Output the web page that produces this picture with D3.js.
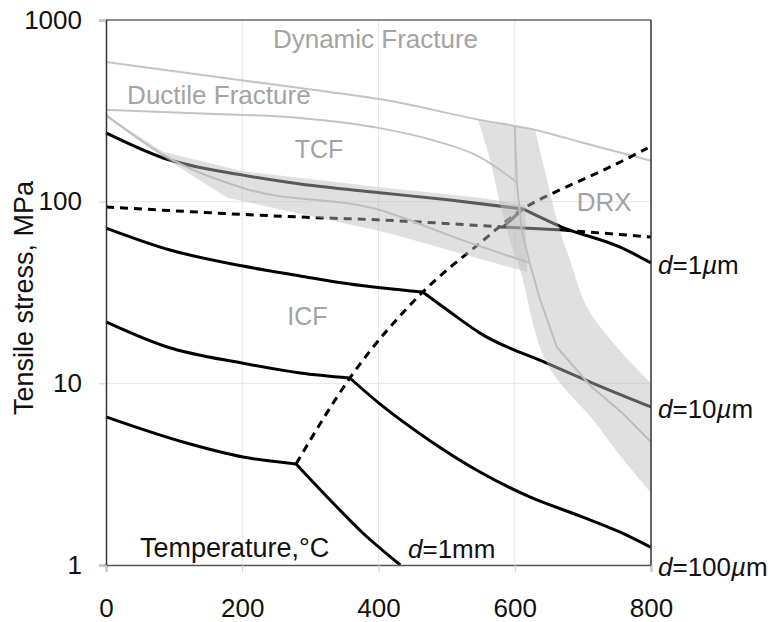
<!DOCTYPE html>
<html>
<head>
<meta charset="utf-8">
<script src="https://cdn.jsdelivr.net/npm/d3@7"></script>
<style>
  body { margin: 0; background: #fff; }
  svg { display: block; }
  text { font-family: "Liberation Sans", Arial, Helvetica, sans-serif; }
</style>
</head>
<body>
<svg id="chart" width="771" height="622"></svg>
<script>
// Axis ticks: temperature (°C) and tensile stress (MPa, log scale)
const tempTicks = [0, 200, 400, 600, 800];
const stressTicks = [1, 10, 100, 1000];

// Fracture boundaries [T, stress]
const dynamicFracture = [[0, 587], [285, 422], [402, 367], [549, 282], [637, 245], [696, 213], [800, 168]];
const ductileFracture = [[0, 320], [140, 306], [285, 289], [402, 254], [480, 218], [549, 176], [603, 128]];

// Iso-strain-rate curves for each grain size: low-T branch and high-T branch meet at the kink
const d1umLow   = [[0, 239], [84, 174], [201, 140], [285, 125], [402, 112], [505, 102], [612, 91.2]];
const d1umHigh  = [[612, 91.2], [669, 72.5], [754, 56.3], [800, 46]];
const d10umLow  = [[0, 71.6], [94, 54.2], [201, 44.2], [285, 39], [358, 35.2], [465, 31.8]];
const d10umHigh = [[465, 31.8], [505, 24.7], [549, 18.9], [647, 12.9], [715, 10.0], [800, 7.41]];
const d100umLow  = [[0, 21.8], [90, 15.85], [201, 12.9], [285, 11.4], [358, 10.7]];
const d100umHigh = [[358, 10.7], [402, 7.7], [476, 4.82], [549, 3.25], [622, 2.37], [696, 1.86], [754, 1.52], [800, 1.25]];
const d1mmLow  = [[0, 6.53], [113, 4.75], [201, 3.93], [279, 3.6]];
const d1mmHigh = [[279, 3.6], [329, 2.28], [377, 1.5], [432, 1.0]];

// Mechanism boundaries (dashed)
const kinkBoundary = [[279, 3.6], [358, 10.7], [465, 31.8], [549, 59.2], [612, 91.2], [666, 116], [725, 146], [795, 197]];
const flatBoundaryLeft  = [[0, 93.5], [285, 82.3], [402, 79.3], [583, 72.5]];
const flatBoundaryMid   = [[612, 91.2], [583, 72.5], [671, 69.8]];
const flatBoundaryRight = [[671, 69.8], [800, 63.9]];

// Shaded regions: TCF band and DRX band (outline edges)
const tcfBandUpper = [[0, 300], [84, 188], [201, 147], [402, 120], [549, 105], [615, 96]];
const tcfBandLower = [[618, 41], [451, 61.5], [402, 68.9], [178, 105], [84, 176], [0, 292]];
const tcfCenter = [[0, 300], [84, 181], [201, 119], [402, 90], [520, 62], [622, 46]];
const drxBandLeft  = [[546, 283], [564, 169], [578, 98], [593, 61.5], [608, 42], [647, 12.9], [715, 6.28], [754, 4.03], [800, 2.49]];
const drxBandRight = [[800, 10.0], [747, 16.3], [706, 26.3], [681, 47.7], [666, 69.8], [644, 149], [630, 249]];
const drxCenter = [[600, 260], [603, 128], [610, 70], [622, 46], [637, 29], [662, 15.8], [710, 9.8], [759, 6.8], [800, 4.75]];

const svg = d3.select("#chart");
const x = d3.scaleLinear().domain([0, 800]).range([106, 651]);
const y = d3.scaleLog().domain([1, 1000]).range([565, 20]);

const smooth = d3.line().x(d => x(d[0])).y(d => y(d[1])).curve(d3.curveMonotoneX);
const straight = d3.line().x(d => x(d[0])).y(d => y(d[1]));
const rounded = d3.line().x(d => x(d[0])).y(d => y(d[1])).curve(d3.curveCatmullRom.alpha(0.5));

// Closed outline from two edges, each drawn with its own interpolation
function bandPath(edgeA, edgeB, gen) {
  return gen(edgeA) + gen(edgeB).replace(/^M/, "L") + "Z";
}

// Grid
const grid = svg.append("g");
grid.selectAll("line.v").data([200, 400, 600]).join("line")
  .attr("x1", d => x(d)).attr("x2", d => x(d)).attr("y1", y(1000)).attr("y2", y(1))
  .attr("stroke", "#e6e6e6").attr("stroke-width", 1);
grid.selectAll("line.h").data([10, 100]).join("line")
  .attr("x1", x(0)).attr("x2", x(800)).attr("y1", d => y(d)).attr("y2", d => y(d))
  .attr("stroke", "#e6e6e6").attr("stroke-width", 1);

// Fracture boundaries
[dynamicFracture, ductileFracture].forEach(s => {
  svg.append("path").attr("d", smooth(s)).attr("fill", "none")
    .attr("stroke", "#c4c4c4").attr("stroke-width", 2);
});

// Grain-size curves
[[d1umLow, d1umHigh], [d10umLow, d10umHigh], [d100umLow, d100umHigh], [d1mmLow, d1mmHigh]].forEach(pair => {
  pair.forEach(s => {
    svg.append("path").attr("d", smooth(s)).attr("fill", "none")
      .attr("stroke", "#000").attr("stroke-width", 3).attr("stroke-linejoin", "round");
  });
});

// Dashed mechanism boundaries
[kinkBoundary, flatBoundaryLeft, flatBoundaryRight].forEach(s => {
  svg.append("path").attr("d", smooth(s)).attr("fill", "none")
    .attr("stroke", "#000").attr("stroke-width", 3).attr("stroke-dasharray", "8,6");
});
svg.append("path").attr("d", straight(flatBoundaryMid)).attr("fill", "none")
  .attr("stroke", "#000").attr("stroke-width", 3).attr("stroke-linejoin", "miter");

// Translucent bands over the curves
const bandFill = "rgb(190,190,190)";
svg.append("path")
  .attr("d", bandPath(tcfBandUpper, tcfBandLower, straight))
  .attr("fill", bandFill).attr("fill-opacity", 0.47);
svg.append("path")
  .attr("d", bandPath(drxBandLeft, drxBandRight, rounded))
  .attr("fill", bandFill).attr("fill-opacity", 0.47);

// Centre lines of the bands
svg.append("path").attr("d", smooth(tcfCenter)).attr("fill", "none")
  .attr("stroke", "#bdbdbd").attr("stroke-width", 2);
svg.append("path").attr("d", straight(drxCenter)).attr("fill", "none")
  .attr("stroke", "#bdbdbd").attr("stroke-width", 2);

// Frame
svg.append("line").attr("x1", x(0)).attr("x2", x(800)).attr("y1", y(1000)).attr("y2", y(1000))
  .attr("stroke", "#666").attr("stroke-width", 1.5);
svg.append("line").attr("x1", x(800)).attr("x2", x(800)).attr("y1", y(1000)).attr("y2", y(1))
  .attr("stroke", "#333").attr("stroke-width", 1.5);

// Axes
const fontSize = 26;
const yAxis = svg.append("g").attr("transform", `translate(${x(0)},0)`)
  .call(d3.axisLeft(y).tickValues(stressTicks).tickFormat(d3.format("d")).tickSize(7).tickPadding(17));
const xAxis = svg.append("g").attr("transform", `translate(0,${y(1)})`)
  .call(d3.axisBottom(x).tickValues(tempTicks).tickFormat(d3.format("d")).tickSize(7).tickPadding(27));
[yAxis, xAxis].forEach(g => {
  g.selectAll("text").attr("font-size", fontSize).attr("fill", "#111")
    .style("font-family", '"Liberation Sans", Arial, sans-serif');
  g.selectAll(".tick line").attr("stroke", "#c8c8c8");
});
yAxis.select(".domain").attr("stroke", "#333").attr("stroke-width", 1.5);
xAxis.select(".domain").attr("stroke", "#555").attr("stroke-width", 1.5);

// Axis titles
svg.append("text")
  .attr("transform", "translate(33,298) rotate(-90)")
  .attr("text-anchor", "middle").attr("font-size", 27).attr("fill", "#111")
  .text("Tensile stress, MPa");
svg.append("text").attr("x", 140).attr("y", 557)
  .attr("font-size", 27).attr("fill", "#111").text("Temperature,°C");

// Region labels
const regionLabels = [
  { text: "Dynamic Fracture", T: 245, s: 700, size: 26 },
  { text: "Ductile Fracture", T: 31, s: 345, size: 26 },
  { text: "TCF", T: 277, s: 173, size: 25 },
  { text: "DRX", T: 691, s: 89, size: 26 },
  { text: "ICF", T: 266, s: 21, size: 25 }
];
svg.selectAll("text.region").data(regionLabels).join("text")
  .attr("class", "region")
  .attr("x", d => x(d.T)).attr("y", d => y(d.s))
  .attr("font-size", d => d.size).attr("fill", "#a3a3a3")
  .text(d => d.text);

// Grain-size labels
function grainLabel(px, py, parts) {
  const t = svg.append("text").attr("x", px).attr("y", py).attr("font-size", 26).attr("fill", "#111");
  parts.forEach(p => t.append("tspan").attr("font-style", p[1] ? "italic" : "normal").text(p[0]));
}
const sizeLabels = [
  { s: 46, parts: [["d", 1], ["=1", 0], ["\u00b5", 1], ["m", 0]] },
  { s: 7.41, parts: [["d", 1], ["=10", 0], ["\u00b5", 1], ["m", 0]] },
  { s: 1.0, parts: [["d", 1], ["=100", 0], ["\u00b5", 1], ["m", 0]] }
];
sizeLabels.forEach(l => grainLabel(x(800) + 7, y(l.s) + 11, l.parts));
grainLabel(408, 558, [["d", 1], ["=1mm", 0]]);
</script>
</body>
</html>
